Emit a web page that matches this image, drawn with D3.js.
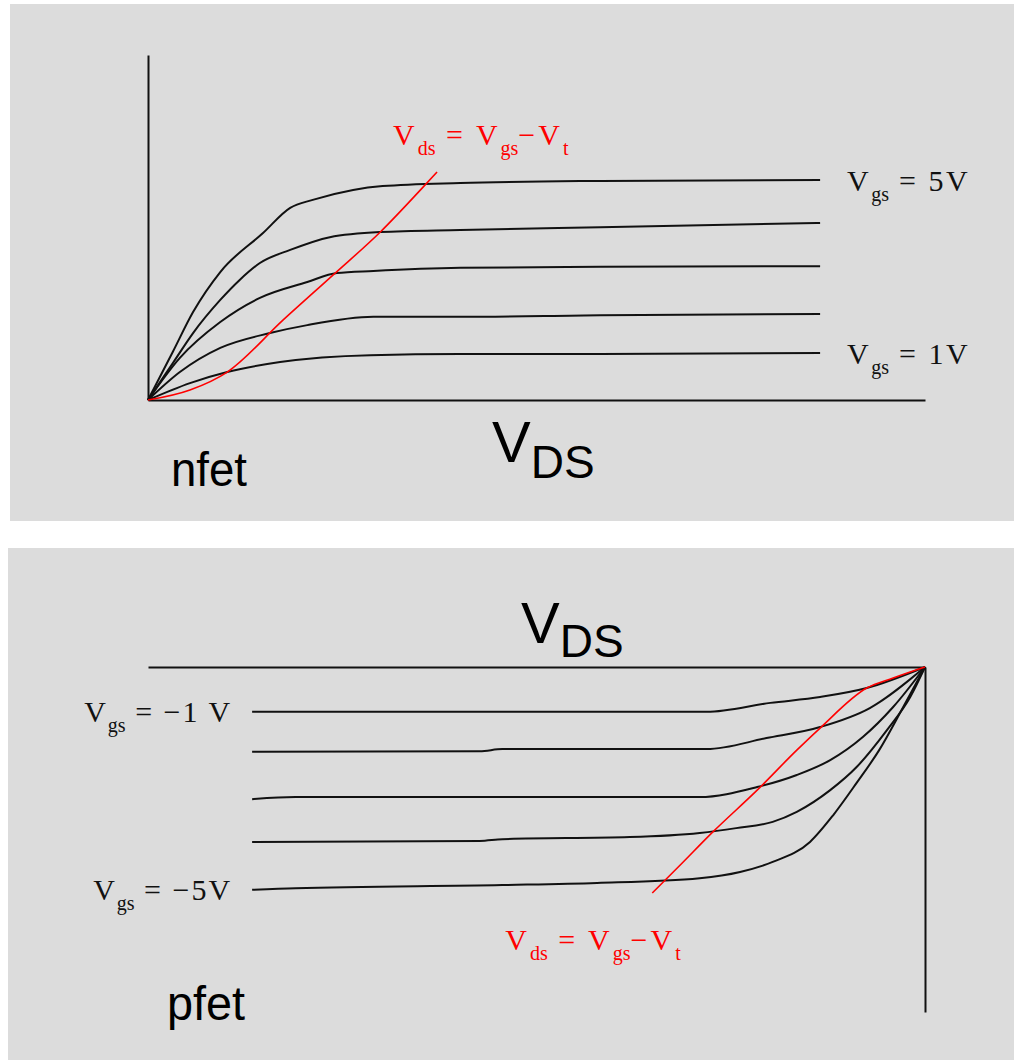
<!DOCTYPE html>
<html>
<head>
<meta charset="utf-8">
<script src="https://cdn.jsdelivr.net/npm/d3@7"></script>
<style>
  html, body { margin: 0; padding: 0; background: #ffffff; }
  svg { display: block; }
</style>
</head>
<body>
<script>
// ---- n-channel output characteristics (VDS in V, ID in arbitrary units) ----
const nfetGateLabels = ["5V", "4V", "3V", "2V", "1V"];
const nfetVgs5 = [[0,0],[0.32,1.40],[0.58,2.55],[0.93,3.71],[1.48,4.84],[1.83,5.57],[2.12,5.80],[2.64,6.09],[3.02,6.20],[4.02,6.29],[5.82,6.35],[8.65,6.38]];
const nfetVgs4 = [[0,0],[0.32,1.07],[0.58,1.94],[0.93,2.90],[1.18,3.48],[1.44,3.97],[1.83,4.35],[2.34,4.72],[2.99,4.87],[4.02,4.93],[5.82,5.01],[8.65,5.13]];
const nfetVgs3 = [[0,0],[0.41,1.22],[0.93,2.26],[1.44,2.96],[2.05,3.42],[2.43,3.68],[2.90,3.74],[4.02,3.83],[5.82,3.86],[8.65,3.88]];
const nfetVgs2 = [[0,0],[0.41,0.81],[0.93,1.51],[1.57,1.94],[2.05,2.17],[2.90,2.41],[4.02,2.41],[5.82,2.46],[8.65,2.49]];
const nfetVgs1 = [[0,0],[0.54,0.49],[1.02,0.81],[1.70,1.10],[2.86,1.30],[4.02,1.33],[5.82,1.33],[8.65,1.36]];
// saturation boundary VDS = VGS - Vt
const nfetBoundary = [[0,0],[0.54,0.29],[1.02,0.81],[1.74,2.32],[2.38,3.62],[2.99,4.87],[3.54,6.17],[3.72,6.61]];

// ---- p-channel output characteristics (negative VDS, negative ID) ----
const pfetGateLabels = ["−1 V", "−2V", "−3V", "−4V", "−5V"];
const pfetVgs1 = [[-8.66,-1.30],[-5.73,-1.30],[-2.81,-1.30],[-1.99,-1.04],[-1.35,-0.87],[-0.75,-0.61],[0,0]];
const pfetVgs2 = [[-8.66,-2.46],[-5.73,-2.44],[-5.44,-2.38],[-2.81,-2.38],[-2.04,-2.06],[-1.35,-1.74],[-0.71,-1.19],[0,0]];
const pfetVgs3 = [[-8.66,-3.83],[-8.10,-3.77],[-2.90,-3.77],[-2.16,-3.48],[-1.65,-3.13],[-1.22,-2.70],[-0.80,-2.03],[-0.41,-1.16],[0,0]];
const pfetVgs4 = [[-8.66,-5.07],[-5.73,-5.04],[-5.44,-4.99],[-3.80,-4.93],[-2.90,-4.81],[-2.43,-4.67],[-1.96,-4.49],[-1.65,-4.20],[-1.22,-3.57],[-0.88,-2.90],[-0.49,-1.83],[-0.19,-0.87],[0,0]];
const pfetVgs5 = [[-8.66,-6.46],[-8.10,-6.41],[-5.44,-6.32],[-4.22,-6.26],[-2.90,-6.12],[-2.38,-5.94],[-1.96,-5.65],[-1.48,-5.07],[-1.18,-4.29],[-0.88,-3.36],[-0.59,-2.41],[-0.28,-1.16],[0,0]];
const pfetBoundary = [[0,0],[-0.41,-0.32],[-0.75,-0.61],[-1.35,-1.77],[-1.65,-2.41],[-2.16,-3.57],[-2.73,-4.78],[-3.15,-5.74],[-3.51,-6.55]];

const W = 1014, H = 1060;
const BG = "#dcdcdc", INK = "#111111", RED = "#ff0000";

const svg = d3.select("body").append("svg")
  .attr("width", W).attr("height", H)
  .attr("viewBox", `0 0 ${W} ${H}`);

// two grey panels
svg.append("rect").attr("x", 10).attr("y", 4).attr("width", W - 10).attr("height", 517).attr("fill", BG);
svg.append("rect").attr("x", 8).attr("y", 548).attr("width", W - 8).attr("height", H - 548).attr("fill", BG);

const serif = "'Liberation Serif', 'DejaVu Serif', serif";
const sans = "'Liberation Sans', Arial, Helvetica, sans-serif";

// label of the form V<sub>..</sub> = ..., built from parts
function vLabel(g, x, y, parts, opts) {
  const t = g.append("text")
    .attr("x", x).attr("y", y)
    .attr("font-family", serif)
    .attr("font-size", 30)
    .attr("letter-spacing", opts.spacing)
    .attr("text-anchor", opts.anchor || "start")
    .attr("fill", opts.color);
  let shifted = false;
  parts.forEach(p => {
    const s = t.append("tspan").text(p.t);
    if (p.sub) {
      s.attr("font-size", 20).attr("letter-spacing", 0).attr("dy", 10);
      shifted = true;
    } else {
      if (shifted) { s.attr("dy", -10); shifted = false; }
    }
  });
  return t;
}

function styleAxis(a) {
  a.select(".domain").attr("stroke", INK).attr("stroke-width", 2);
  a.selectAll(".tick").remove();
}

const line = (x, y) => d3.line().x(d => x(d[0])).y(d => y(d[1])).curve(d3.curveMonotoneX);

// ================= nfet =================
{
  const x = d3.scaleLinear().domain([0, 10]).range([148, 925]);
  const y = d3.scaleLinear().domain([0, 10]).range([400, 55]);
  const g = svg.append("g");

  styleAxis(g.append("g").attr("transform", `translate(0,${y(0)})`)
    .call(d3.axisBottom(x).ticks(0).tickSizeOuter(0)));
  styleAxis(g.append("g").attr("transform", `translate(${x(0)},0)`)
    .call(d3.axisLeft(y).ticks(0).tickSizeOuter(0)));

  const curves = [nfetVgs5, nfetVgs4, nfetVgs3, nfetVgs2, nfetVgs1];
  const ln = line(x, y);
  g.selectAll("path.curve").data(curves).join("path")
    .attr("class", "curve")
    .attr("d", ln).attr("fill", "none")
    .attr("stroke", INK).attr("stroke-width", 2);

  g.append("path").datum(nfetBoundary)
    .attr("d", ln).attr("fill", "none")
    .attr("stroke", RED).attr("stroke-width", 1.6);

  // gate-voltage labels on the outermost curves
  [0, 4].forEach(i => {
    const last = curves[i][curves[i].length - 1];
    vLabel(g, x(last[0]) + 27, y(last[1]) + 11,
      [{t: "V"}, {t: "gs", sub: true}, {t: " = " + nfetGateLabels[i]}],
      {spacing: 2.5, color: INK});
  });

  const top = nfetBoundary[nfetBoundary.length - 1];
  vLabel(g, x(top[0]) - 44, y(top[1]) - 27,
    [{t: "V"}, {t: "ds", sub: true}, {t: " = V"}, {t: "gs", sub: true}, {t: "−V"}, {t: "t", sub: true}],
    {spacing: 3, color: RED});

  const vds = g.append("text").attr("x", 492).attr("y", 462)
    .attr("font-family", sans).attr("fill", "#000");
  vds.append("tspan").attr("font-size", 58).text("V");
  vds.append("tspan").attr("font-size", 46).attr("dy", 16).text("DS");

  g.append("text").attr("x", 171).attr("y", 486)
    .attr("font-family", sans).attr("font-size", 48).attr("fill", "#000")
    .attr("textLength", 76).attr("lengthAdjust", "spacingAndGlyphs")
    .text("nfet");
}

// ================= pfet =================
{
  const x = d3.scaleLinear().domain([-10, 0]).range([148, 925]);
  const y = d3.scaleLinear().domain([-10, 0]).range([1012, 667]);
  const g = svg.append("g");

  styleAxis(g.append("g").attr("transform", `translate(0,${y(0)})`)
    .call(d3.axisTop(x).ticks(0).tickSizeOuter(0)));
  styleAxis(g.append("g").attr("transform", `translate(${x(0)},0)`)
    .call(d3.axisRight(y).ticks(0).tickSizeOuter(0)));

  const curves = [pfetVgs1, pfetVgs2, pfetVgs3, pfetVgs4, pfetVgs5];
  const ln = line(x, y);
  g.selectAll("path.curve").data(curves).join("path")
    .attr("class", "curve")
    .attr("d", ln).attr("fill", "none")
    .attr("stroke", INK).attr("stroke-width", 2);

  g.append("path").datum(pfetBoundary)
    .attr("d", ln).attr("fill", "none")
    .attr("stroke", RED).attr("stroke-width", 1.6);

  [0, 4].forEach(i => {
    const first = curves[i][0];
    vLabel(g, x(first[0]) - 20, y(first[1]) + 10,
      [{t: "V"}, {t: "gs", sub: true}, {t: " = " + pfetGateLabels[i]}],
      {spacing: 2, color: INK, anchor: "end"});
  });

  const end = pfetBoundary[pfetBoundary.length - 1];
  vLabel(g, x(end[0]) - 147, y(end[1]) + 57,
    [{t: "V"}, {t: "ds", sub: true}, {t: " = V"}, {t: "gs", sub: true}, {t: "−V"}, {t: "t", sub: true}],
    {spacing: 3, color: RED});

  const vds = g.append("text").attr("x", 521).attr("y", 643)
    .attr("font-family", sans).attr("fill", "#000");
  vds.append("tspan").attr("font-size", 58).text("V");
  vds.append("tspan").attr("font-size", 46).attr("dy", 14).text("DS");

  g.append("text").attr("x", 167).attr("y", 1020)
    .attr("font-family", sans).attr("font-size", 48).attr("fill", "#000")
    .attr("textLength", 78).attr("lengthAdjust", "spacingAndGlyphs")
    .text("pfet");
}
</script>
</body>
</html>
